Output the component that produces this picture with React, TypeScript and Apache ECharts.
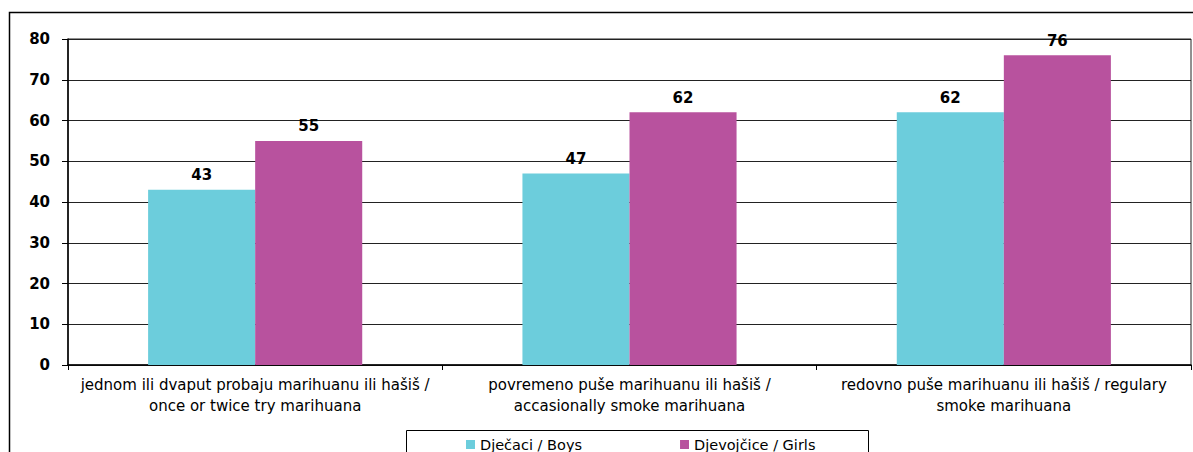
import React, { useEffect, useRef } from "react";
import * as echarts from "echarts";

const categories = [
  "jednom ili dvaput probaju marihuanu ili hašiš /\nonce or twice try marihuana",
  "povremeno puše marihuanu ili hašiš /\naccasionally smoke marihuana",
  "redovno puše marihuanu ili hašiš / regulary\nsmoke marihuana",
];
const boys = [43, 47, 62];
const girls = [55, 62, 76];
const seriesNames = ["Dječaci / Boys", "Djevojčice / Girls"];
const FONT = "'DejaVu Sans', Arial, sans-serif";

export default function App() {
  const ref = useRef<HTMLDivElement>(null);
  useEffect(() => {
    const chart = echarts.init(ref.current!, null, { renderer: "svg" });
    const valueLabel = {
      show: true,
      position: "top",
      distance: 7,
      fontSize: 15,
      fontWeight: "bold",
      color: "#000",
      fontFamily: FONT,
    };
    chart.setOption({
      animation: false,
      textStyle: { fontFamily: FONT },
      grid: {
        left: 68,
        right: 2,
        top: 39,
        bottom: 87,
        show: true,
        borderColor: "#222",
        borderWidth: 1,
        backgroundColor: "transparent",
      },
      legend: {
        left: 461,
        top: 432,
        itemWidth: 9,
        itemHeight: 9,
        itemGap: 98,
        icon: "rect",
        data: seriesNames,
        textStyle: { fontSize: 14.5, color: "#000", fontFamily: FONT },
      },
      xAxis: {
        type: "category",
        data: categories,
        axisLine: { lineStyle: { color: "#000", width: 1.5 } },
        axisTick: { show: true, length: 5, lineStyle: { color: "#000" } },
        axisLabel: {
          fontSize: 15,
          color: "#000",
          lineHeight: 21,
          margin: 9,
          interval: 0,
          fontFamily: FONT,
        },
      },
      yAxis: {
        type: "value",
        min: 0,
        max: 80,
        interval: 10,
        axisLine: { show: true, lineStyle: { color: "#000", width: 1.5 } },
        axisTick: { show: true, length: 6, lineStyle: { color: "#000" } },
        axisLabel: {
          fontSize: 15,
          fontWeight: "bold",
          color: "#000",
          margin: 18,
          fontFamily: FONT,
        },
        splitLine: { show: true, lineStyle: { color: "#222", width: 1 } },
      },
      series: [
        {
          name: seriesNames[0],
          type: "bar",
          data: boys,
          barGap: "0%",
          barCategoryGap: "42.8%",
          itemStyle: { color: "#6CCDDC" },
          label: valueLabel,
        },
        {
          name: seriesNames[1],
          type: "bar",
          data: girls,
          barGap: "0%",
          barCategoryGap: "42.8%",
          itemStyle: { color: "#B8529E" },
          label: valueLabel,
        },
      ],
      graphic: [
        {
          type: "rect",
          shape: { x: 9.5, y: 12.5, width: 1300, height: 600 },
          style: { fill: "none", stroke: "#000", lineWidth: 1.5 },
          silent: true,
          z: -1,
        },
        {
          type: "rect",
          shape: { x: 406.5, y: 430.5, width: 462, height: 40 },
          style: { fill: "none", stroke: "#000", lineWidth: 1 },
          silent: true,
          z: -1,
        },
      ],
    });
    return () => chart.dispose();
  }, []);
  return (
    <div
      ref={ref}
      style={{ position: "absolute", left: 0, top: 0, width: 1193, height: 452 }}
    />
  );
}
